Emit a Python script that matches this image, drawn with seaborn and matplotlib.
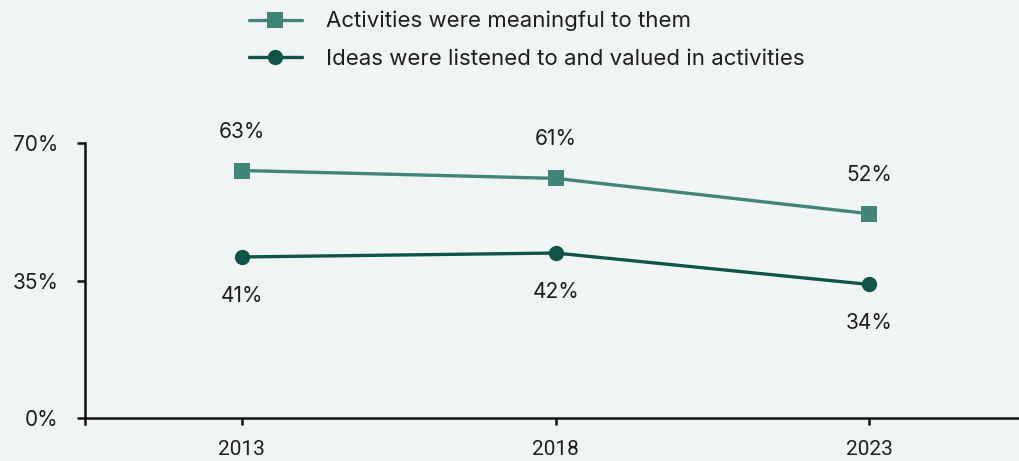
import matplotlib
matplotlib.use("Agg")
import matplotlib.pyplot as plt
import seaborn as sns
import pandas as pd

years = [2013, 2018, 2023]
meaningful = [63, 61, 52]
listened = [41, 42, 34]
series_names = ["Activities were meaningful to them",
                "Ideas were listened to and valued in activities"]
y_ticks = [0, 35, 70]

bg = "#f1f4f5"
c1 = "#418579"
c2 = "#0e5448"
txt = "#1e1e1e"

sns.set_theme(style="white")
plt.rcParams['font.family'] = ['Inter', 'DejaVu Sans']

df = pd.DataFrame({
    "year": years * 2,
    "value": meaningful + listened,
    "series": [series_names[0]] * 3 + [series_names[1]] * 3,
})

fig = plt.figure(figsize=(10.2, 4.61), dpi=100, facecolor=bg)
ax = fig.add_axes([85 / 1020, 1 - 424 / 461, 1 - 85 / 1020, (424 - 143) / 461])
ax.set_facecolor(bg)

sns.lineplot(data=df, x="year", y="value", hue="series", style="series",
             markers={series_names[0]: "s", series_names[1]: "o"},
             dashes=False, palette=[c1, c2], linewidth=2.4, markersize=11,
             markeredgewidth=0, ax=ax, legend=True)

for s in ["top", "right"]:
    ax.spines[s].set_visible(False)
ax.spines["bottom"].set_position(("data", 0))
for s in ["left", "bottom"]:
    ax.spines[s].set_linewidth(1.8)
    ax.spines[s].set_color("#111111")

ax.set_xlim(2010.5, 2025.4)
ax.set_ylim(-1.5, 70)
ax.set_xticks(years)
ax.set_xticklabels([str(y) for y in years])
ax.set_yticks(y_ticks)
ax.set_yticklabels([f"{v}%" for v in y_ticks])
for lab in ax.get_xticklabels():
    lab.set_fontfamily(['Roboto', 'DejaVu Sans'])
    lab.set_fontsize(15)
    lab.set_color(txt)
for lab in ax.get_yticklabels():
    lab.set_fontsize(15)
    lab.set_color(txt)
ax.set_xlabel("")
ax.set_ylabel("")
ax.tick_params(axis="both", bottom=True, left=True, direction="out",
               width=1.8, color="#111111")
ax.tick_params(axis="x", length=5, pad=11)
ax.tick_params(axis="y", length=6, pad=13)

for x, v in zip(years, meaningful):
    ax.annotate(f"{v}%", (x, v), xytext=(0, 28), textcoords="offset points",
                ha="center", va="center", fontsize=15, color=txt,
                annotation_clip=False)
for x, v in zip(years, listened):
    ax.annotate(f"{v}%", (x, v), xytext=(0, -28), textcoords="offset points",
                ha="center", va="center", fontsize=15, color=txt,
                annotation_clip=False)

handles, labels = ax.get_legend_handles_labels()
ax.legend_.remove()
leg = fig.legend(handles, labels, loc="upper left", bbox_to_anchor=(233 / 1020, 1.01),
                 frameon=False, fontsize=16, handlelength=2.4, handletextpad=1.1,
                 labelspacing=0.8, borderaxespad=0.3)
for t in leg.get_texts():
    t.set_color(txt)

fig.savefig("out.png", dpi=100, facecolor=bg)
